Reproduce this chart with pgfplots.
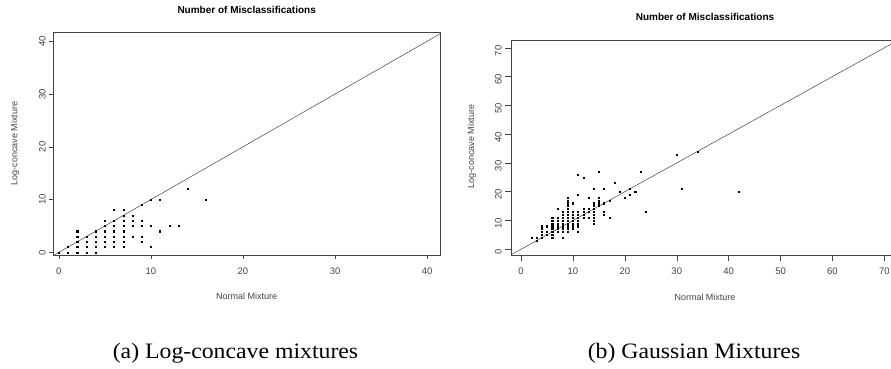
\documentclass[border=0pt]{standalone}
\usepackage{pgfplots}
\pgfplotsset{compat=1.18}
\usepackage{pgfplotstable}
\usepackage{fontspec}
\setmainfont{Liberation Sans}
\newfontfamily\timesfont{Liberation Serif}
\definecolor{axgray}{HTML}{444444}

\pgfplotstableread{
x y
0 0
1 0
2 0
3 0
4 0
1 1
2 1
3 1
4 1
5 1
6 1
7 1
10 1
2 2
3 2
4 2
5 2
6 2
7 2
9 2
2 3
3 3
4 3
5 3
6 3
7 3
8 3
9 3
2 4
4 4
5 4
6 4
7 4
11 4
5 5
6 5
7 5
8 5
9 5
10 5
12 5
13 5
5 6
6 6
7 6
8 6
9 6
7 7
8 7
6 8
7 8
9 9
10 10
11 10
16 10
14 12
}\leftdata

\pgfplotstableread{
x y
2 4
3 4
3 3
4 8
4 7
4 6
4 5
4 4
5 8
5 6
5 5
6 11
6 10
6 9
6 8
6 7
6 6
6 5
6 4
7 14
7 11
7 10
7 9
7 8
7 7
7 6
8 13
8 12
8 11
8 10
8 9
8 8
8 7
8 6
8 4
9 18
9 17
9 16
9 15
9 14
9 13
9 12
9 11
9 10
9 9
9 8
9 7
9 6
10 16
10 13
10 12
10 11
10 10
10 9
10 8
10 7
11 26
11 19
11 13
11 12
11 11
11 10
11 9
11 8
11 6
12 25
12 14
12 13
12 12
12 11
13 18
13 14
13 13
13 11
14 21
14 16
14 15
14 14
14 13
14 12
14 11
14 10
14 9
15 27
15 18
15 17
15 16
15 15
16 21
16 16
16 13
16 12
17 17
17 11
18 23
19 20
20 18
21 21
21 19
22 20
23 27
24 13
30 33
31 21
34 34
42 20
}\rightdata

\pgfplotsset{
  rstyle/.style={
    scale only axis,
    anchor=south west,
    tick align=outside,
    xtick pos=left,
    ytick pos=left,
    axis line style={axgray, line width=0.6pt},
    tick style={axgray, line width=0.5pt},
    /pgf/number format/assume math mode=true,
    ticklabel style={font=\fontsize{9.5}{11}\selectfont, text=axgray},
    yticklabel style={rotate=90, anchor=south},
    clip=true,
  },
}

\begin{document}
\begin{tikzpicture}
\useasboundingbox (0,0) rectangle (891pt,369pt);
\clip (0,0) rectangle (891pt,369pt);

% left plot
\begin{axis}[rstyle,
  at={(53.3pt,114pt)}, width=386.7pt, height=222.7pt,
  xmin=-0.6, xmax=41.4, ymin=-0.5, ymax=41.7,
  xtick={0,10,20,30,40}, ytick={0,10,20,30,40},
  major tick length=4pt,
  xticklabel style={yshift=-5pt},
]
\addplot[black!75, line width=0.5pt] coordinates {(-5,-5) (50,50)};
\addplot[only marks, mark=square*, mark size=0.55pt, black] table[x=x,y=y] {\leftdata};
\end{axis}

% right plot
\begin{axis}[rstyle,
  at={(511.7pt,114pt)}, width=386.7pt, height=215pt,
  xmin=-1.8, xmax=72.7, ymin=-2, ymax=72.7,
  xtick={0,10,20,30,40,50,60,70}, ytick={0,10,20,30,40,50,60,70},
  major tick length=6.5pt,
  xticklabel style={yshift=-3pt},
  yticklabel style={xshift=-3pt},
]
\addplot[black!75, line width=0.5pt] coordinates {(-5,-5) (80,80)};
\addplot[only marks, mark=square*, mark size=0.55pt, black] table[x=x,y=y] {\rightdata};
\end{axis}

% titles and labels
\node[font=\bfseries\fontsize{10}{12}\selectfont] at (246.7pt,359pt) {Number of Misclassifications};
\node[font=\bfseries\fontsize{10}{12}\selectfont] at (705pt,352.3pt) {Number of Misclassifications};
\node[font=\fontsize{9}{11}\selectfont, text=axgray] at (246.7pt,73pt) {Normal Mixture};
\node[font=\fontsize{9}{11}\selectfont, text=axgray] at (705pt,72pt) {Normal Mixture};
\node[font=\fontsize{9}{11}\selectfont, text=axgray, rotate=90] at (15pt,225.3pt) {Log-concave Mixture};
\node[font=\fontsize{9}{11}\selectfont, text=axgray, rotate=90] at (471.7pt,222.3pt) {Log-concave Mixture};

% captions
\node[anchor=base, inner sep=0pt] at (235.5pt,10pt) {\scalebox{1.08}[1]{\timesfont\fontsize{22}{24}\selectfont (a) Log-concave mixtures}};
\node[anchor=base, inner sep=0pt] at (694pt,10pt) {\scalebox{1.08}[1]{\timesfont\fontsize{22}{24}\selectfont (b) Gaussian Mixtures}};
\end{tikzpicture}
\end{document}
